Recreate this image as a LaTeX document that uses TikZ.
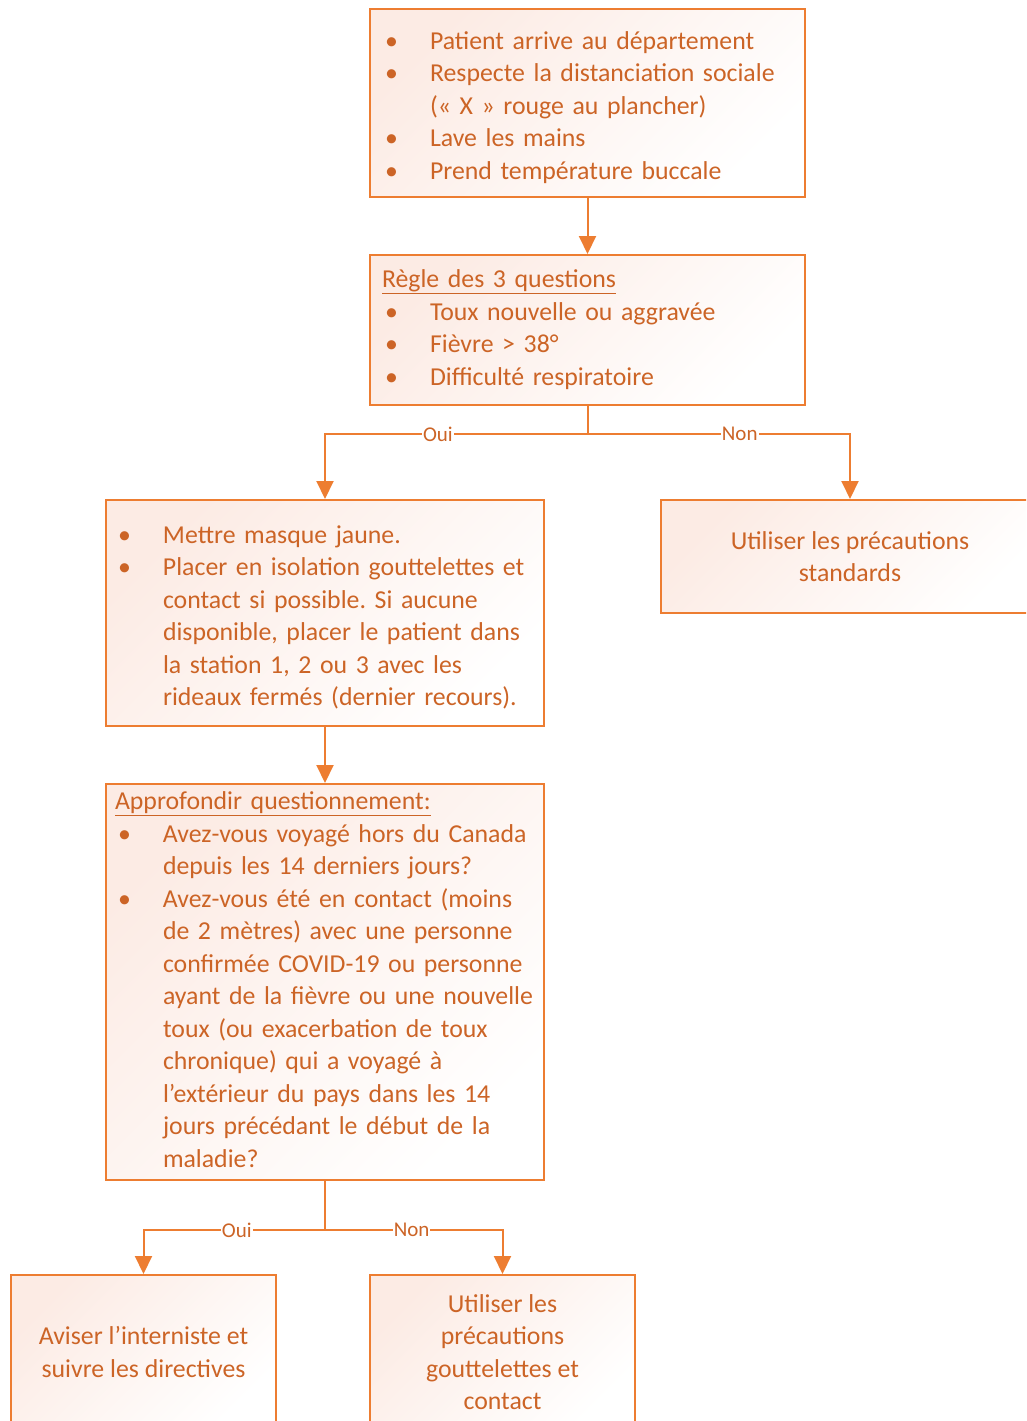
\documentclass[tikz,border=0pt]{standalone}
\usepackage{fontspec}
\setmainfont{Carlito}
\usepackage{tikz}
\usetikzlibrary{arrows.meta,positioning}
\definecolor{orangetrait}{HTML}{ED7D31}
\definecolor{orangetexte}{HTML}{CC6426}
\definecolor{fondrose}{RGB}{252,235,228}
\newcommand{\reglages}{\frenchspacing\hyphenpenalty=10000\relax}
\tikzset{
  boite/.style={draw=orangetrait, line width=2pt, rectangle, inner xsep=12pt, inner ysep=0pt,
    top color=fondrose, bottom color=white, shading angle=45,
    text=orangetexte, font=\fontsize{25.8}{32.5}\selectfont, execute at begin node=\reglages},
  liste/.style={boite, align=left},
  centre/.style={boite, align=center},
  fleche/.style={draw=orangetrait, line width=2pt, -{Triangle[width=17pt,length=18pt]}},
  trait/.style={draw=orangetrait, line width=2pt},
  reponse/.style={fill=white, inner sep=1pt, text=orangetexte, font=\fontsize{21}{24}\selectfont}
}
% item with bullet and hanging text
\newcommand{\puce}[1]{\par\hangindent=48pt\hangafter=1\noindent
  \makebox[48pt][l]{\strut\hspace{3pt}\textbullet}#1\strut\par}
\newcommand{\titre}[1]{\noindent\strut\underline{#1}\par}
\begin{document}
\begin{tikzpicture}[x=1pt,y=-1pt]
    \useasboundingbox (0,0) rectangle (1026,1421);
    \clip (0,0) rectangle (1026,1421);
    \node[liste, minimum width=435pt, minimum height=188pt, text width=411pt] (arrivee) at (587.5,103) {%
        \puce{Patient arrive au département}
        \puce{Respecte la distanciation sociale\newline(«~X~» rouge au plancher)}
        \puce{Lave les mains}
        \puce{Prend température buccale}};
    \node[liste, minimum width=435pt, minimum height=150pt, text width=411pt] (regle) at (587.5,330) {%
        \titre{Règle des 3 questions}
        \puce{Toux nouvelle ou aggravée}
        \puce{Fièvre > 38°}
        \puce{Difficulté respiratoire}};
    \node[liste, minimum width=438pt, minimum height=226pt, text width=420pt, inner xsep=9pt] (masque) at (325,613) {%
        \puce{Mettre masque jaune.}
        \puce{Placer en isolation gouttelettes et\newline contact si possible. Si aucune\newline disponible, placer le patient dans\newline la station 1, 2 ou 3 avec les\newline rideaux fermés (dernier recours).}};
    \node[centre, minimum width=378pt, minimum height=113pt] (standard) at (850,556.5) {%
        Utiliser les précautions\\standards};
    \node[liste, minimum width=438pt, minimum height=396pt, text width=420pt, inner xsep=9pt] (question) at (325,982) {%
        \titre{Approfondir questionnement:}
        \puce{Avez-vous voyagé hors du Canada\newline depuis les 14 derniers jours?}
        \puce{Avez-vous été en contact (moins\newline de 2 mètres) avec une personne\newline confirmée COVID-19 ou personne\newline ayant de la fièvre ou une nouvelle\newline toux (ou exacerbation de toux\newline chronique) qui a voyagé à\newline l’extérieur du pays dans les 14\newline jours précédant le début de la\newline maladie?}};
    \node[centre, minimum width=265pt, minimum height=154pt] (interniste) at (143.5,1352) {%
        Aviser l’interniste et\\suivre les directives};
    \node[centre, minimum width=265pt, minimum height=154pt] (gouttes) at (502.5,1352) {%
        Utiliser les\\précautions\\gouttelettes et\\contact};

    \coordinate (j1) at (587.5,434);
    \coordinate (j2) at (325,1230);

    \draw[fleche] (arrivee) -- (regle);
    \draw[trait] (regle.south) -- (j1);
    \draw[fleche] (j1) -| node[reponse, pos=0.285] {Oui} (masque.north);
    \draw[fleche] (j1) -| node[reponse, pos=0.29] {Non} (standard.north);
    \draw[fleche] (masque) -- (question);
    \draw[trait] (question.south) -- (j2);
    \draw[fleche] (j2) -| node[reponse, pos=0.243] {Oui} (interniste.north);
    \draw[fleche] (j2) -| node[reponse, pos=0.244] {Non} (gouttes.north);
\end{tikzpicture}
\end{document}
